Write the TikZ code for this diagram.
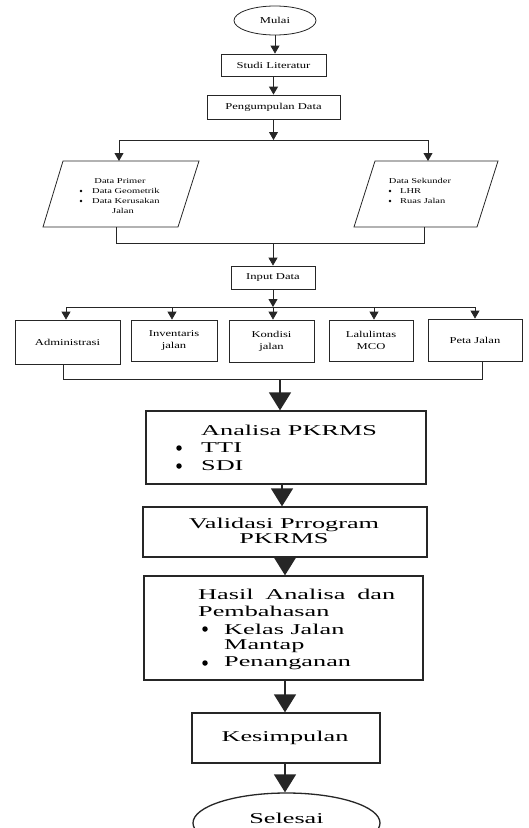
\documentclass[tikz,border=0pt]{standalone}
\usepackage{fontspec}
\setmainfont{Liberation Serif}
\newfontfamily\smallfnt[FakeStretch=1.4]{Liberation Serif}
\newfontfamily\bigfnt[FakeStretch=1.75]{Liberation Serif}
\usetikzlibrary{arrows.meta,shapes.geometric}
\begin{document}
\begin{tikzpicture}[x=1pt,y=-1pt,
 line/.style={draw=black!85, line width=0.8pt},
 sarr/.style={line, -{Triangle[width=9pt,length=8pt]}},
 barr/.style={draw=black!85, line width=1.6pt, -{Triangle[width=22pt,length=18pt]}},
 sbox/.style={draw=black!85, line width=0.8pt, rectangle, inner sep=0pt, font=\smallfnt\fontsize{9}{12}\selectfont, align=center},
 bbox/.style={draw=black!85, line width=1.3pt, rectangle, inner sep=0pt},
 ptext/.style={font=\smallfnt\fontsize{7.5}{9}\selectfont, inner sep=0pt},
 pbul/.style={circle, fill=black, inner sep=0pt, minimum size=2.8pt},
 btext/.style={font=\bigfnt\fontsize{15}{15}\selectfont, inner sep=0pt},
 bbul/.style={circle, fill=black, inner sep=0pt, minimum size=5.5pt},
]
\useasboundingbox (0,0) rectangle (529,828);
\clip (0,0) rectangle (529,828);

% top part
\node[draw=black!85, line width=0.8pt, ellipse, minimum width=82pt, minimum height=29pt, inner sep=0pt, font=\smallfnt\fontsize{9}{11}\selectfont] (mulai) at (275,20.5) {Mulai};
\node[sbox, minimum width=105pt, minimum height=22pt] (studi) at (273.5,65) {Studi Literatur};
\node[sbox, minimum width=133pt, minimum height=24pt] (peng) at (273.5,107) {Pengumpulan Data};
\draw[sarr] (mulai.south) -- (mulai.south |- studi.north);
\draw[sarr] (studi) -- (peng);

\coordinate (s1) at (273.5,140);
\coordinate (s1l) at (119,140);
\coordinate (s1r) at (428,140);
\coordinate (primtop) at (119,161);
\coordinate (sektop) at (428,161);
\draw[sarr] (peng.south) -- (s1);
\draw[line] (s1l) -- (s1r);
\draw[sarr] (s1l) -- (primtop);
\draw[sarr] (s1r) -- (sektop);

% parallelograms
\draw[line] (63,161) -- (199,161) -- (178,227) -- (43,227) -- cycle;
\draw[line] (375,161) -- (498,161) -- (477,227) -- (354,227) -- cycle;
\node[ptext] (prim) at (120,181) {Data Primer};
\node[pbul] (pb1) at (81,191) {};
\node[ptext, anchor=west] (pt1) at (92,191) {Data Geometrik};
\node[pbul] (pb2) at (81,201) {};
\node[ptext, anchor=west] (pt2) at (92,201) {Data Kerusakan};
\node[ptext] (pt3) at (123,210.5) {Jalan};
\node[ptext] (sek) at (420,181) {Data Sekunder};
\node[pbul] (sb1) at (390,191) {};
\node[ptext, anchor=west] (st1) at (400,191) {LHR};
\node[pbul] (sb2) at (390,201) {};
\node[ptext, anchor=west] (st2) at (400,201) {Ruas Jalan};

\coordinate (primbot) at (116,227);
\coordinate (sekbot) at (424,227);
\coordinate (m1l) at (116,243);
\coordinate (m1r) at (424,243);
\coordinate (m1) at (273,243);
\draw[line] (primbot) -- (m1l) -- (m1r) -- (sekbot);

\node[sbox, minimum width=84pt, minimum height=23pt] (input) at (273,277.5) {Input Data};
\draw[sarr] (m1) -- (input.north);

% five boxes
\node[sbox, minimum width=105pt, minimum height=44pt] (adm) at (67.5,342) {Administrasi};
\node[sbox, minimum width=86pt, minimum height=41pt] (inv) at (174,340.5) {Inventaris\\jalan};
\node[sbox, minimum width=85pt, minimum height=42pt] (kon) at (271.5,341) {Kondisi\\jalan};
\node[sbox, minimum width=84pt, minimum height=41pt] (lal) at (371,340.5) {Lalulintas\\MCO};
\node[sbox, minimum width=94pt, minimum height=42pt] (peta) at (475,340) {Peta Jalan};

\coordinate (s2) at (273,307);
\coordinate (s2a) at (66,307);
\coordinate (s2b) at (172,307);
\coordinate (s2d) at (374,307);
\coordinate (s2e) at (475,307);
\draw[sarr] (input.south) -- (s2);
\draw[line] (s2a) -- (s2e);
\draw[sarr] (s2a) -- (s2a |- adm.north);
\draw[sarr] (s2b) -- (s2b |- inv.north);
\draw[sarr] (s2) -- (s2 |- kon.north);
\draw[sarr] (s2d) -- (s2d |- lal.north);
\draw[sarr] (s2e) -- (s2e |- peta.north);

\coordinate (admbot) at (63,364);
\coordinate (petabot) at (482,361);
\coordinate (m2l) at (63,379);
\coordinate (m2r) at (482,379);
\coordinate (m2) at (280,379);
\draw[line] (admbot) -- (m2l) -- (m2r) -- (petabot);

% lower part
\node[bbox, minimum width=280pt, minimum height=73pt] (ana) at (286,447.5) {};
\node[btext, anchor=west] (anat) at (201,430) {Analisa PKRMS};
\node[bbul] (ab1) at (179,448) {};
\node[btext, anchor=west] (at1) at (201,448) {TTI};
\node[bbul] (ab2) at (179,466) {};
\node[btext, anchor=west] (at2) at (201,466) {SDI};
\draw[barr] (m2) -- (m2 |- ana.north);

\node[bbox, minimum width=284pt, minimum height=50pt] (val) at (285,532) {};
\node[btext, align=center] (valt) at (284,530.5) {Validasi Prrogram\\PKRMS};
\coordinate (v1) at (282,484);
\draw[barr] (v1) -- (v1 |- val.north);

\node[bbox, minimum width=279pt, minimum height=104pt] (has) at (283.5,628) {};
\node[btext, anchor=west, text width=197pt] (ht1) at (198,594) {Hasil\hfill Analisa\hfill dan};
\node[btext, anchor=west] (ht2) at (198,611.5) {Pembahasan};
\node[bbul] (hb1) at (205,629) {};
\node[btext, anchor=west] (ht3) at (224,629) {Kelas Jalan};
\node[btext, anchor=west] (ht4) at (224,646) {Mantap};
\node[bbul] (hb2) at (205,663) {};
\node[btext, anchor=west] (ht5) at (224,663) {Penanganan};
\coordinate (v2) at (285,557);
\draw[barr] (v2) -- (v2 |- has.north);

\node[bbox, minimum width=188pt, minimum height=50pt] (kes) at (286,738) {};
\node[btext] (kest) at (285,738) {Kesimpulan};
\coordinate (v3) at (285,680);
\draw[barr] (v3) -- (v3 |- kes.north);

\node[draw=black!85, line width=1.3pt, ellipse, minimum width=187pt, minimum height=60pt, inner sep=0pt] (sel) at (286.5,823) {};
\node[btext] (selt) at (286.5,818) {Selesai};
\coordinate (v4) at (285,763);
\draw[barr] (v4) -- (v4 |- sel.north);
\end{tikzpicture}
\end{document}
